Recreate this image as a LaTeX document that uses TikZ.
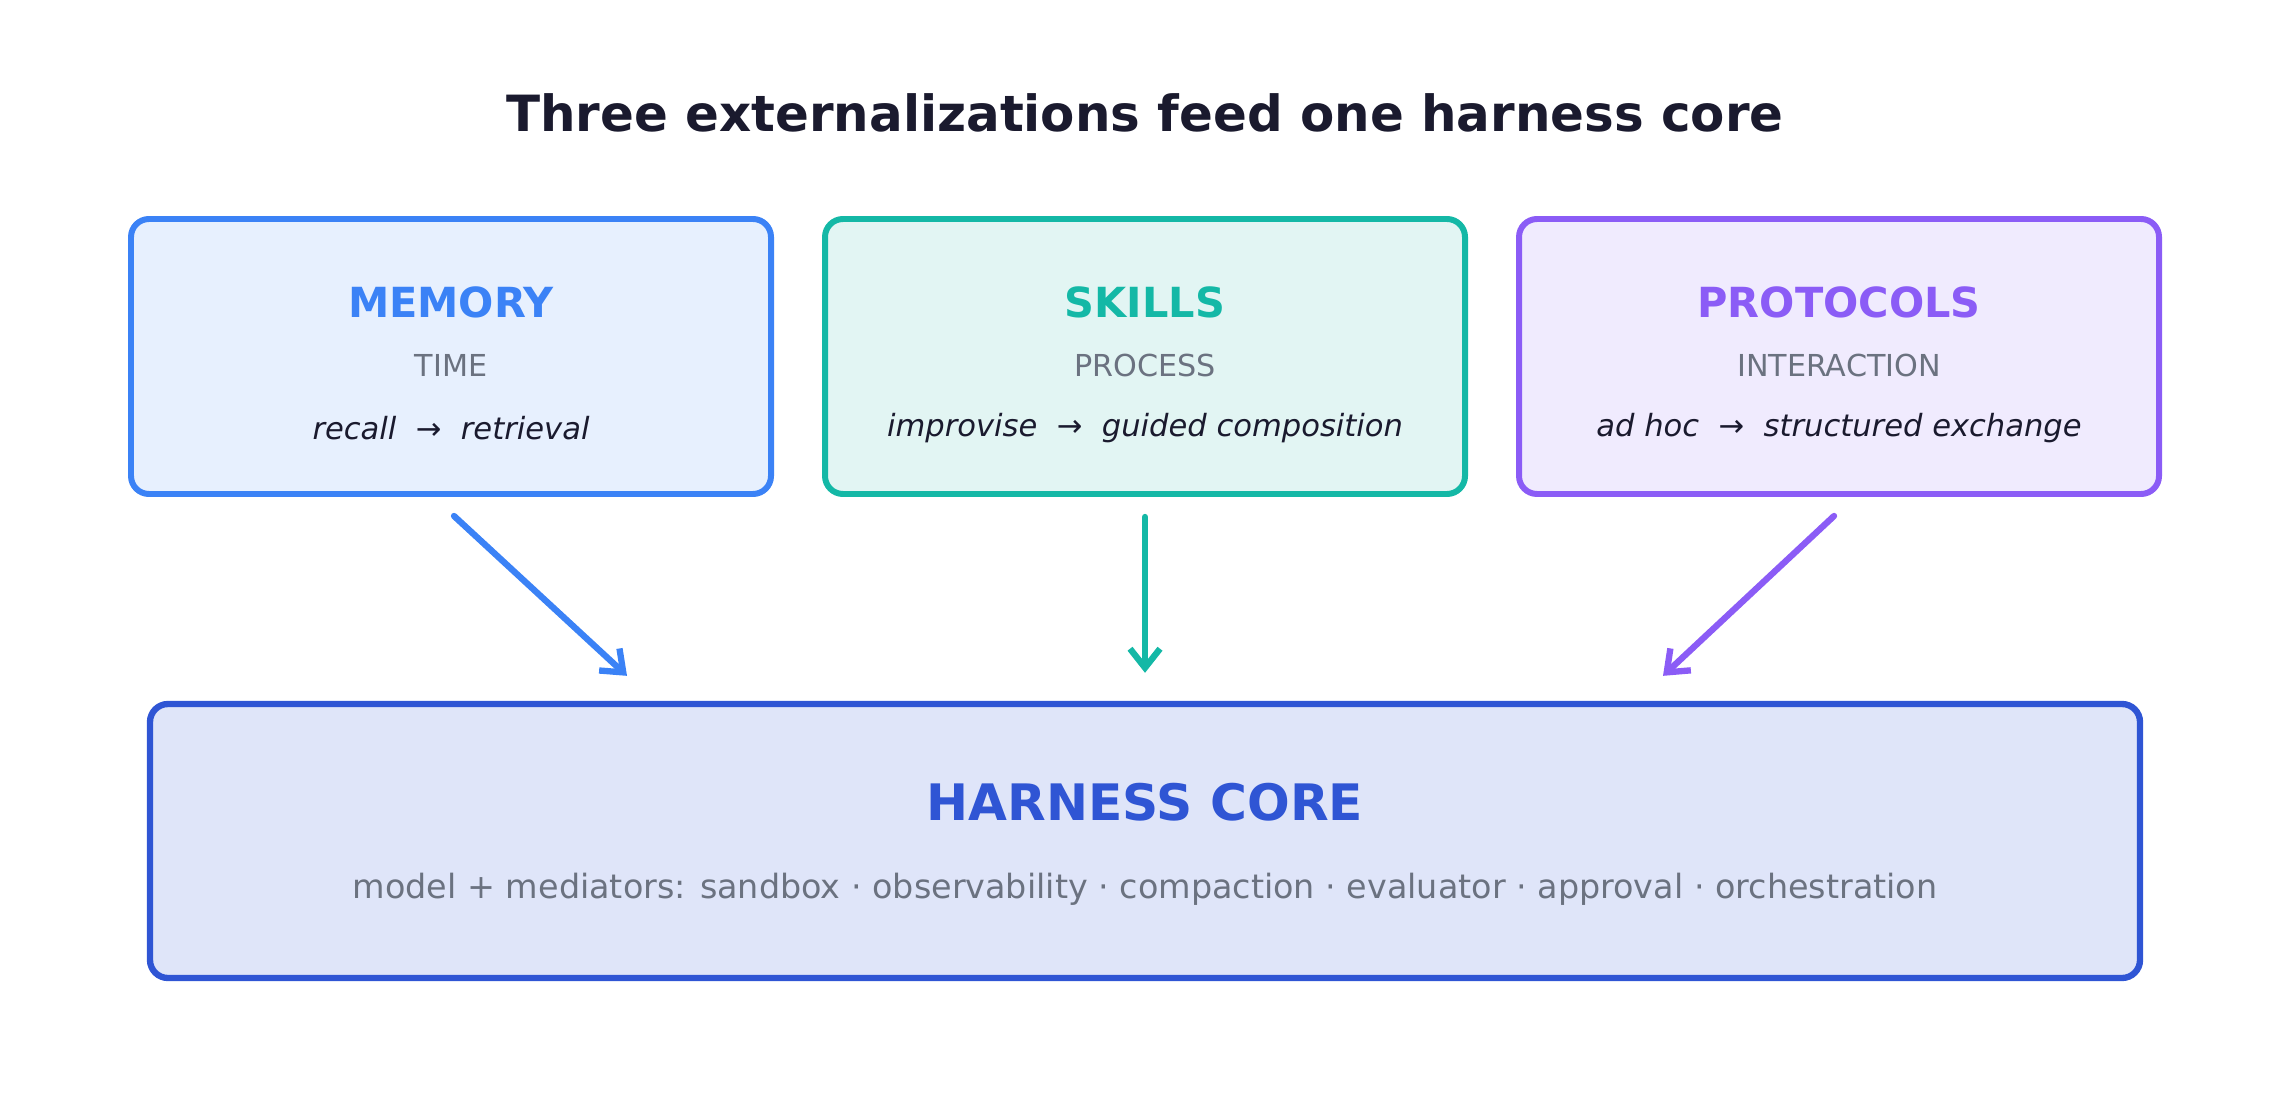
\documentclass[tikz,border=0pt]{standalone}
\usepackage{fontspec}
\setmainfont{DejaVu Sans}
\usetikzlibrary{arrows.meta}

\definecolor{memblue}{HTML}{3B82F6}
\definecolor{memfill}{HTML}{E7F0FE}
\definecolor{skillteal}{HTML}{14B8A6}
\definecolor{skillfill}{HTML}{E2F5F3}
\definecolor{protoviolet}{HTML}{8B5CF6}
\definecolor{protofill}{HTML}{F0EBFE}
\definecolor{coreblue}{HTML}{2F55D4}
\definecolor{corefill}{HTML}{DFE5F9}
\definecolor{inkgray}{HTML}{6B7280}
\definecolor{inkdark}{HTML}{1A1A2E}

\begin{document}
\begin{tikzpicture}[line cap=round, line join=round,
  card/.style={draw, rounded corners=0.18cm, line width=1.7pt, minimum width=6.4cm, minimum height=2.75cm, inner sep=0pt},
  cardhead/.style={font=\fontsize{11.8}{14}\selectfont\bfseries},
  cardaxis/.style={font=\fontsize{8.6}{10}\selectfont, text=inkgray},
  cardshift/.style={font=\fontsize{8.7}{10}\selectfont\itshape, text=inkdark},
  feed/.style={-{Straight Barb[length=0.19cm,width=0.3cm,line width=1.8pt]}, line width=1.8pt}]

  \useasboundingbox (0,0) rectangle (22.9,11.05);

  \node[font=\fontsize{14.2}{17}\selectfont\bfseries, text=inkdark] (title) at (11.45,9.925) {Three externalizations feed one harness core};

  % three externalizations
  \node[card, draw=memblue, fill=memfill] (mem) at (4.51,7.485) {};
  \node[card, draw=skillteal, fill=skillfill] (skill) at (11.45,7.485) {};
  \node[card, draw=protoviolet, fill=protofill] (proto) at (18.39,7.485) {};

  \node[cardhead, text=memblue] (memhead) at ([yshift=0.545cm]mem.center) {MEMORY};
  \node[cardaxis] (memaxis) at ([yshift=-0.085cm]mem.center) {TIME};
  \node[cardshift] (memshift) at ([yshift=-0.715cm]mem.center) {recall~~→~~retrieval};

  \node[cardhead, text=skillteal] (skillhead) at ([yshift=0.545cm]skill.center) {SKILLS};
  \node[cardaxis] (skillaxis) at ([yshift=-0.085cm]skill.center) {PROCESS};
  \node[cardshift] (skillshift) at ([yshift=-0.715cm]skill.center) {improvise~~→~~guided composition};

  \node[cardhead, text=protoviolet] (protohead) at ([yshift=0.545cm]proto.center) {PROTOCOLS};
  \node[cardaxis] (protoaxis) at ([yshift=-0.085cm]proto.center) {INTERACTION};
  \node[cardshift] (protoshift) at ([yshift=-0.715cm]proto.center) {ad hoc~~→~~structured exchange};

  % the core
  \node[card, draw=coreblue, fill=corefill, minimum width=19.9cm, minimum height=2.74cm, line width=1.8pt] (core) at (11.45,2.64) {};
  \node[font=\fontsize{14.3}{17}\selectfont\bfseries, text=coreblue] (corehead) at ([yshift=0.39cm]core.center) {HARNESS CORE};
  \node[font=\fontsize{9.5}{12}\selectfont, text=inkgray] (corelist) at ([yshift=-0.48cm]core.center) {model + mediators: sandbox · observability · compaction · evaluator · approval · orchestration};

  \coordinate (memin) at ([xshift=-5.18cm,yshift=0.25cm]core.north);
  \coordinate (skillin) at ([yshift=0.28cm]core.north);
  \coordinate (protoin) at ([xshift=5.18cm,yshift=0.25cm]core.north);

  \draw[feed, memblue] ([xshift=0.03cm,yshift=-0.19cm]mem.south) -- (memin);
  \draw[feed, skillteal] ([yshift=-0.2cm]skill.south) -- (skillin);
  \draw[feed, protoviolet] ([xshift=-0.05cm,yshift=-0.19cm]proto.south) -- (protoin);

\end{tikzpicture}
\end{document}
